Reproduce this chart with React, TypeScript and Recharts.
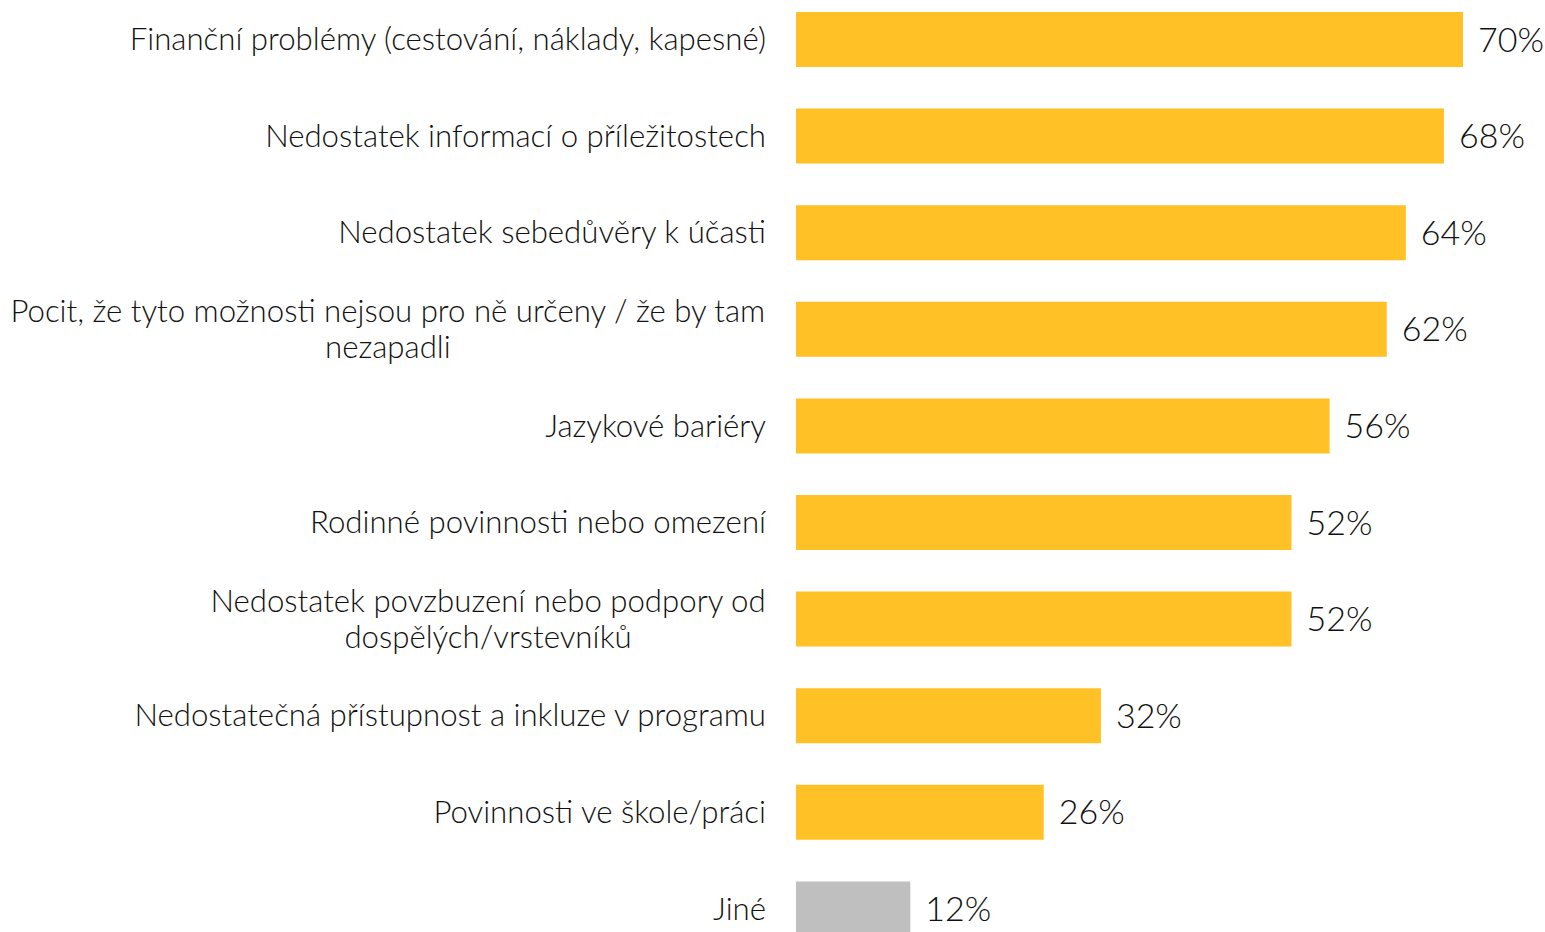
import { BarChart, Bar, XAxis, YAxis, Cell, LabelList } from 'recharts';

const categories = [
  'Finanční problémy (cestování, náklady, kapesné)',
  'Nedostatek informací o příležitostech',
  'Nedostatek sebedůvěry k účasti',
  'Pocit, že tyto možnosti nejsou pro ně určeny / že by tam\nnezapadli',
  'Jazykové bariéry',
  'Rodinné povinnosti nebo omezení',
  'Nedostatek povzbuzení nebo podpory od\ndospělých/vrstevníků',
  'Nedostatečná přístupnost a inkluze v programu',
  'Povinnosti ve škole/práci',
  'Jiné',
];
const values = [70, 68, 64, 62, 56, 52, 52, 32, 26, 12];
const colors = ['#FFC125', '#FFC125', '#FFC125', '#FFC125', '#FFC125', '#FFC125', '#FFC125', '#FFC125', '#FFC125', '#BFBFBF'];

const data = categories.map((name, i) => ({ name, value: values[i], color: colors[i] }));

const FONT = 'Lato, "Open Sans", sans-serif';
const FONT_SIZE = 31.2;
const WEIGHT = 300;

let ctx: CanvasRenderingContext2D | null = null;
const measure = (s: string) => {
  if (!ctx) ctx = document.createElement('canvas').getContext('2d');
  if (!ctx) return s.length * 15;
  ctx.font = `${WEIGHT} ${FONT_SIZE}px Lato`;
  return ctx.measureText(s).width;
};

const CategoryTick = ({ x, y, payload }: any) => {
  const lines = String(payload.value).split('\n');
  const lh = 36;
  const w = Math.max(...lines.map(measure));
  const mid = x - w / 2;
  const y0 = y - ((lines.length - 1) * lh) / 2;
  return (
    <g>
      {lines.map((l, i) => (
        <text
          key={i}
          x={lines.length > 1 ? mid : x}
          y={y0 + i * lh}
          dy="0.35em"
          textAnchor={lines.length > 1 ? 'middle' : 'end'}
          fontFamily={FONT}
          fontWeight={WEIGHT}
          fontSize={FONT_SIZE}
          fill="#111"
        >
          {l}
        </text>
      ))}
    </g>
  );
};

export default function App() {
  return (
    <div style={{ position: 'fixed', top: 0, left: 0, width: 1545, height: 932, overflow: 'hidden', background: '#fff' }}>
      <div style={{ position: 'absolute', top: -9, left: 0 }}>
        <BarChart
          width={1545}
          height={966}
          data={data}
          layout="vertical"
          margin={{ top: 0, right: 82, bottom: 0, left: 0 }}
        >
          <XAxis type="number" domain={[0, 70]} hide />
          <YAxis
            type="category"
            dataKey="name"
            width={796}
            axisLine={false}
            tickLine={false}
            tickSize={0}
            tickMargin={30}
            interval={0}
            tick={<CategoryTick />}
          />
          <Bar dataKey="value" barSize={55} isAnimationActive={false}>
            {data.map((d, i) => (
              <Cell key={i} fill={d.color} />
            ))}
            <LabelList
              dataKey="value"
              position="right"
              offset={15}
              formatter={(v: any) => `${v}%`}
              fontFamily={FONT}
              fontWeight={WEIGHT}
              fontSize={34}
              fill="#111"
            />
          </Bar>
        </BarChart>
      </div>
    </div>
  );
}
